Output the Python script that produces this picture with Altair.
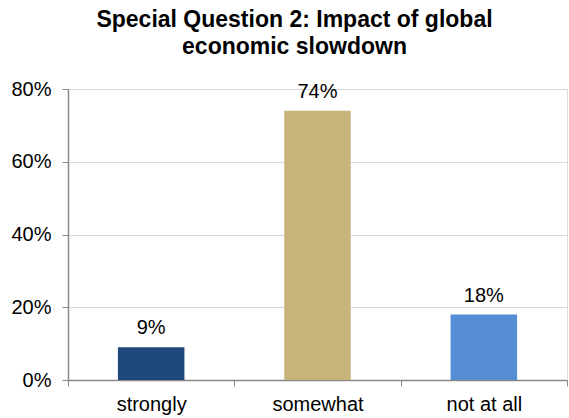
import altair as alt
import pandas as pd

categories = ["strongly", "somewhat", "not at all"]
shares = [0.09, 0.74, 0.18]
colors = ["#1F497D", "#C8B47A", "#558ED5"]

df = pd.DataFrame({"answer": categories, "share": shares, "color": colors})

FONT = "Liberation Sans"

x = alt.X(
    "answer:N",
    sort=categories,
    title=None,
    scale=alt.Scale(paddingInner=0, paddingOuter=0),
    axis=alt.Axis(
        labelAngle=0,
        labelFontSize=20,
        labelFont=FONT,
        labelColor="#000000",
        labelPadding=8,
        tickBand="extent",
        tickSize=6,
        tickColor="#898989",
        domainColor="#898989",
        domainWidth=1.5,
        grid=False,
    ),
)

y = alt.Y(
    "share:Q",
    title=None,
    scale=alt.Scale(domain=[0, 0.8]),
    axis=alt.Axis(
        format=".0%",
        values=[0, 0.2, 0.4, 0.6, 0.8],
        labelFontSize=20,
        labelFont=FONT,
        labelColor="#000000",
        labelPadding=11,
        tickSize=6,
        tickColor="#898989",
        domainColor="#898989",
        domainWidth=1.5,
        gridColor="#D9D9D9",
        gridWidth=1,
    ),
)

bars = alt.Chart(df).mark_bar(width=alt.RelativeBandSize(0.4)).encode(
    x=x,
    y=y,
    color=alt.Color("color:N", scale=None),
)

labels = alt.Chart(df).mark_text(
    baseline="bottom", dy=-9, fontSize=20, font=FONT, color="#000000"
).encode(
    x=alt.X("answer:N", sort=categories),
    y=alt.Y("share:Q"),
    text=alt.Text("share:Q", format=".0%"),
)

chart = (
    alt.layer(bars, labels)
    .properties(
        width=499,
        height=291,
        autosize=alt.AutoSizeParams(type="none"),
        padding={"left": 68, "top": 89, "right": 2, "bottom": 38},
        title=alt.TitleParams(
            text=["Special Question 2: Impact of global", "economic slowdown"],
            font=FONT,
            fontSize=23,
            fontWeight="bold",
            color="#000000",
            anchor="middle",
            dx=-23,
            offset=20,
            lineHeight=27,
        ),
    )
    .configure_view(stroke=None)
    .configure(background="#FFFFFF")
)

chart.save("out.html", embed_options={"renderer": "svg", "actions": False})
